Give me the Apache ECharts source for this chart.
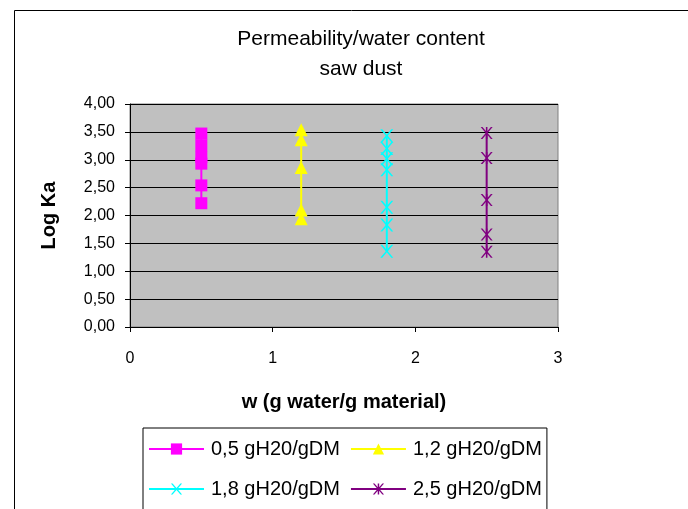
<!DOCTYPE html>
<html>
<head>
<meta charset="utf-8">
<script src="https://cdn.jsdelivr.net/npm/echarts@6/dist/echarts.min.js"></script>
<style>
	html, body { margin: 0; padding: 0; background: #fff; }
	#chart { width: 688px; height: 509px; }
</style>
</head>
<body>
<div id="chart"></div>
<script>
// series names and water content (x) per series
const seriesNames = ['0,5 gH20/gDM', '1,2 gH20/gDM', '1,8 gH20/gDM', '2,5 gH20/gDM']
const waterContent = [0.5, 1.2, 1.8, 2.5]
// Log Ka readings per series
const logKa05 = [3.47, 3.26, 3.05, 2.93, 2.54, 2.22]
const logKa12 = [3.54, 3.36, 2.86, 2.10, 1.94]
const logKa18 = [3.43, 3.20, 3.02, 2.82, 2.15, 1.83, 1.36]
const logKa25 = [3.48, 3.03, 2.28, 1.66, 1.35]

const colors = ['#FF00FF', '#FFFF00', '#00FFFF', '#800080']
const FONT = 'Arial, "Liberation Sans", sans-serif'

const xMark = 'path://M0,0 L1.5,0 L5,4.1 L8.5,0 L10,0 L5.8,5 L10,10 L8.5,10 L5,5.9 L1.5,10 L0,10 L4.2,5 Z'
const starMark = xMark.replace('path://', 'path://M4.35,0 L5.65,0 L5.65,10 L4.35,10 Z ')

const symbols = [
	{ symbol: 'rect', size: 12 },
	{ symbol: 'triangle', size: 13 },
	{ symbol: xMark, size: 13 },
	{ symbol: starMark, size: 12 }
]

const allValues = [logKa05, logKa12, logKa18, logKa25]

const chart = echarts.init(document.getElementById('chart'))

const options = {
	animation: false,
	textStyle: { fontFamily: FONT },
	title: {
		text: 'Permeability/water content\nsaw dust',
		left: 356,
		textAlign: 'center',
		top: 19,
		textStyle: {
			fontFamily: FONT,
			fontSize: 21,
			fontWeight: 'normal',
			color: '#000',
			lineHeight: 30
		}
	},
	graphic: [
		{
			type: 'rect',
			left: 12,
			top: 8,
			shape: { width: 674, height: 600 },
			style: { fill: 'none', stroke: '#000', lineWidth: 1 },
			silent: true
		}
	],
	legend: {
		left: 143,
		top: 428,
		width: 410,
		padding: [6, 5, 30, 5],
		itemGap: 10,
		itemWidth: 55,
		itemHeight: 14,
		borderColor: '#000',
		borderWidth: 1,
		textStyle: {
			fontFamily: FONT,
			fontSize: 20,
			color: '#000',
			lineHeight: 30,
			padding: [0, 0, 0, 2]
		},
		data: seriesNames
	},
	grid: {
		left: 130,
		right: 130,
		top: 104,
		bottom: 182,
		show: true,
		backgroundColor: '#C0C0C0',
		borderColor: '#808080',
		borderWidth: 1
	},
	xAxis: {
		type: 'value',
		min: 0,
		max: 3,
		interval: 1,
		name: 'w (g water/g material)',
		nameLocation: 'middle',
		nameGap: 65,
		nameTextStyle: { fontFamily: FONT, fontSize: 20, fontWeight: 'bold', color: '#000' },
		axisLine: { show: true, onZero: false, lineStyle: { color: '#000', width: 1 } },
		axisTick: { show: true, length: 5, lineStyle: { color: '#000' } },
		axisLabel: { fontFamily: FONT, fontSize: 16, color: '#000', margin: 24 },
		splitLine: { show: false }
	},
	yAxis: {
		type: 'value',
		min: 0,
		max: 4,
		interval: 0.5,
		name: 'Log Ka',
		nameLocation: 'middle',
		nameGap: 71,
		nameTextStyle: { fontFamily: FONT, fontSize: 20, fontWeight: 'bold', color: '#000' },
		axisLine: { show: true, lineStyle: { color: '#000', width: 1 } },
		axisTick: { show: true, length: 5, lineStyle: { color: '#000' } },
		axisLabel: {
			fontFamily: FONT,
			fontSize: 16,
			color: '#000',
			margin: 15,
			formatter: v => v.toFixed(2).replace('.', ',')
		},
		splitLine: { show: true, lineStyle: { color: '#000', width: 1 } }
	},
	series: seriesNames.map((name, i) => ({
		name,
		type: 'line',
		symbol: symbols[i].symbol,
		symbolSize: symbols[i].size,
		showAllSymbol: true,
		lineStyle: { color: colors[i], width: 2 },
		itemStyle: { color: colors[i], borderColor: colors[i], borderWidth: 0 },
		data: allValues[i].map(v => [waterContent[i], v])
	}))
}

chart.setOption(options)
</script>
</body>
</html>
